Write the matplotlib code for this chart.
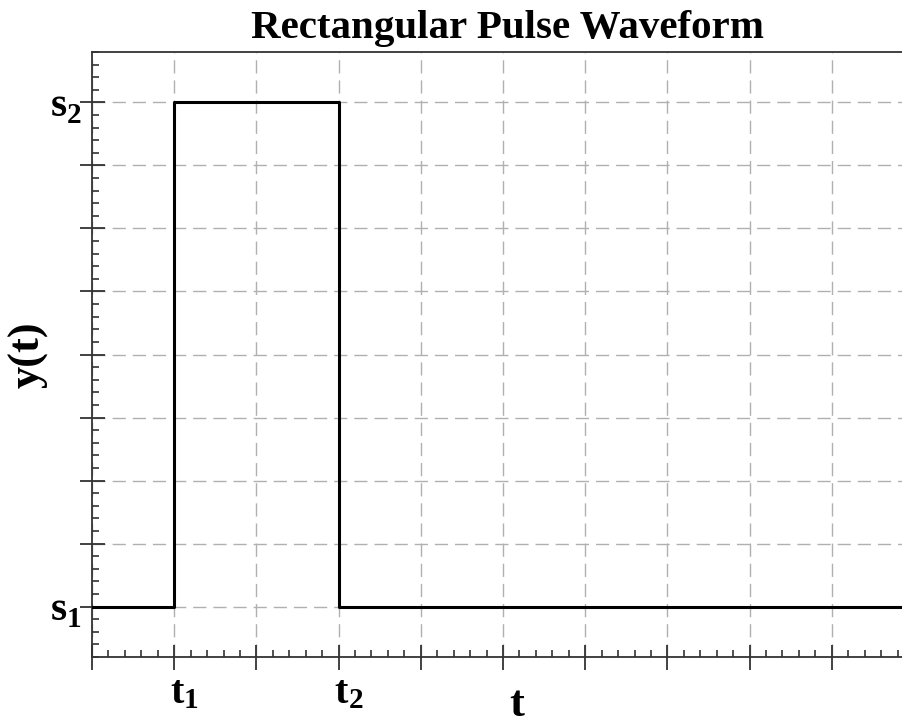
#!/usr/bin/env python3
#-*- coding=utf-8 -*-

import matplotlib
matplotlib.use('Agg')
import matplotlib.pyplot as plt
import numpy as np
from matplotlib.ticker import MultipleLocator

# pulse levels and switching times (in grid units)
s1 = 0.0
s2 = 8.0
t1 = 1.0
t2 = 3.0
t_end = 10.0

pulse_t = [0.0, t1, t1, t2, t2, t_end]
pulse_y = [s1, s1, s2, s2, s1, s1]

x_tick_pos = [t1, t2]
x_tick_labels = ['t', 't']
x_tick_subs = ['1', '2']
y_tick_pos = [s1, s2]
y_tick_labels = ['s', 's']
y_tick_subs = ['1', '2']

plt.rcParams['font.family'] = ['Liberation Serif', 'DejaVu Serif']

fig = plt.figure(figsize=(9.02, 7.27), dpi=100)
ax = fig.add_axes([92/902, 70/727, 822/902, 605/727])

ax.plot(pulse_t, pulse_y, color='black', lw=2.2, zorder=3)

ax.set_xlim(0, 10)
ax.set_ylim(-0.8, 8.8)

# grid on every major unit
ax.xaxis.set_major_locator(MultipleLocator(1))
ax.yaxis.set_major_locator(MultipleLocator(1))
ax.xaxis.set_minor_locator(MultipleLocator(0.2))
ax.yaxis.set_minor_locator(MultipleLocator(0.2))
ax.grid(True, which='major', color='#b0b0b0', lw=1.0, linestyle=(0, (9.5, 5)))
ax.set_axisbelow(True)

ax.set_xticklabels([])
ax.set_yticklabels([])
ax.tick_params(which='major', direction='inout', length=18, width=1.3, color='#333333')
ax.tick_params(which='minor', direction='in', length=5, width=1.1, color='#222222')
ax.tick_params(axis='both', which='both', top=False, right=False)

# labelled positions: letter plus a large, low subscript
for x, lab, sub in zip(x_tick_pos, x_tick_labels, x_tick_subs):
    ax.annotate(lab, xy=(x, 0), xycoords=('data', 'axes fraction'),
                xytext=(2, -33), textcoords='offset points',
                ha='center', va='baseline', fontsize=29, fontweight='bold')
    ax.annotate(sub, xy=(x, 0), xycoords=('data', 'axes fraction'),
                xytext=(7, -37), textcoords='offset points',
                ha='left', va='baseline', fontsize=21, fontweight='bold')
for y, lab, sub in zip(y_tick_pos, y_tick_labels, y_tick_subs):
    ax.annotate(lab, xy=(0, y), xycoords=('axes fraction', 'data'),
                xytext=(-18, -10), textcoords='offset points',
                ha='right', va='baseline', fontsize=30, fontweight='bold')
    ax.annotate(sub, xy=(0, y), xycoords=('axes fraction', 'data'),
                xytext=(-18, -15), textcoords='offset points',
                ha='left', va='baseline', fontsize=21, fontweight='bold')

for side in ['left', 'bottom', 'top']:
    ax.spines[side].set_linewidth(1.3)
    ax.spines[side].set_color('#333333')
ax.spines['right'].set_visible(False)

ax.set_title('Rectangular Pulse Waveform', fontsize=29.5, fontweight='bold', x=0.505, pad=10)
ax.set_xlabel('t', fontsize=32, fontweight='bold')
ax.xaxis.set_label_coords(0.517, -0.047)
ax.set_ylabel('y(t)', fontsize=32, fontweight='bold')
ax.yaxis.set_label_coords(-0.053, 0.5)

fig.savefig('out.png', dpi=100)
